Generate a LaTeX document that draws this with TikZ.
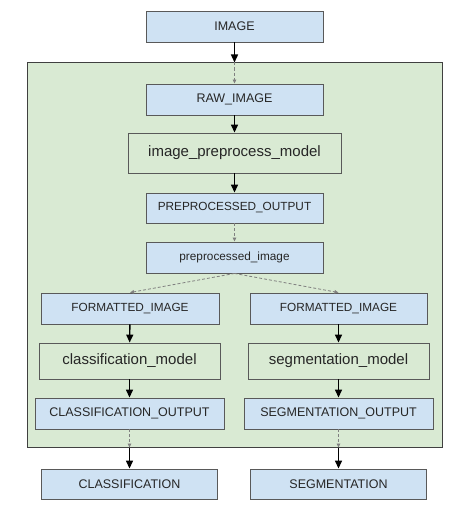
\documentclass[tikz,border=0pt]{standalone}
\usepackage{fontspec}
\setmainfont{Liberation Sans}
\usetikzlibrary{arrows.meta}
\definecolor{boxblue}{HTML}{CFE2F3}
\definecolor{boxgreen}{HTML}{D9EAD3}
\definecolor{edgegray}{HTML}{595959}
\definecolor{textgray}{HTML}{262626}
\tikzset{
  blk/.style={draw=edgegray, line width=0.9pt, fill=boxblue, text=textgray,
    inner sep=0pt, minimum height=31pt, font=\fontsize{12.5}{14}\selectfont},
  blksmall/.style={blk, font=\fontsize{11.8}{13}\selectfont},
  mdl/.style={draw=edgegray, line width=0.9pt, fill=boxgreen, text=textgray,
    inner sep=0pt, font=\fontsize{15}{17}\selectfont},
  flow/.style={draw=black, line width=1.4pt, -{Triangle[length=8pt,width=7pt]}},
  link/.style={draw=gray, line width=0.8pt, dashed, dash pattern=on 3pt off 2pt,
    -{Triangle[length=4pt,width=3.5pt]}},
}
\begin{document}
\begin{tikzpicture}[x=1pt,y=-1pt]
  \useasboundingbox (0,0) rectangle (474,511);
  % container
  \node[draw=black!75, line width=1pt, fill=boxgreen, minimum width=415pt,
    minimum height=384pt, inner sep=0pt] (frame) at (234.5,255) {};
  % nodes
  \node[blk, minimum width=177pt] (image) at (234.5,26.5) {IMAGE};
  \node[blk, minimum width=177pt] (raw) at (234.5,99.5) {RAW\_IMAGE};
  \node[mdl, minimum width=213pt, minimum height=40pt] (prep) at (234.5,153) {image\_preprocess\_model};
  \node[blksmall, minimum width=177pt, minimum height=30pt] (prepout) at (234.5,208) {PREPROCESSED\_OUTPUT};
  \node[blksmall, minimum width=177pt] (prepimg) at (234.5,257.5) {preprocessed\_image};
  \node[blksmall, minimum width=178pt] (fmtl) at (130,308.5) {FORMATTED\_IMAGE};
  \node[blksmall, minimum width=177pt] (fmtr) at (338.5,308.5) {FORMATTED\_IMAGE};
  \node[mdl, minimum width=181pt, minimum height=36pt] (clsmodel) at (129.5,361) {classification\_model};
  \node[mdl, minimum width=181pt, minimum height=36pt] (segmodel) at (338.5,361) {segmentation\_model};
  \node[blk, minimum width=189pt] (clsout) at (129.5,413.5) {CLASSIFICATION\_OUTPUT};
  \node[blk, minimum width=189pt] (segout) at (338.5,413.5) {SEGMENTATION\_OUTPUT};
  \node[blk, minimum width=176pt, minimum height=30pt] (cls) at (129.5,484) {CLASSIFICATION};
  \node[blk, minimum width=176pt, minimum height=30pt] (seg) at (338.5,484) {SEGMENTATION};
  % in and out of the frame
  \coordinate (fin) at (image |- frame.north);
  \coordinate (clsend) at (clsout |- frame.south);
  \coordinate (segend) at (segout |- frame.south);
  \draw[flow] (image) -- (fin);
  \draw[link] (fin) -- (raw);
  \draw[link] (clsout) -- (clsend);
  \draw[link] (segout) -- (segend);
  \draw[flow] (clsend) -- (cls);
  \draw[flow] (segend) -- (seg);
  % inside
  \draw[flow] (raw) -- (prep);
  \draw[flow] (prep) -- (prepout);
  \draw[link] (prepout) -- (prepimg);
  \draw[link] (prepimg.south) -- (fmtl.north);
  \draw[link] (prepimg.south) -- (fmtr.north);
  \draw[flow] (fmtl) -- (clsmodel);
  \draw[flow] (fmtr) -- (segmodel);
  \draw[flow] (clsmodel) -- (clsout);
  \draw[flow] (segmodel) -- (segout);
\end{tikzpicture}
\end{document}
